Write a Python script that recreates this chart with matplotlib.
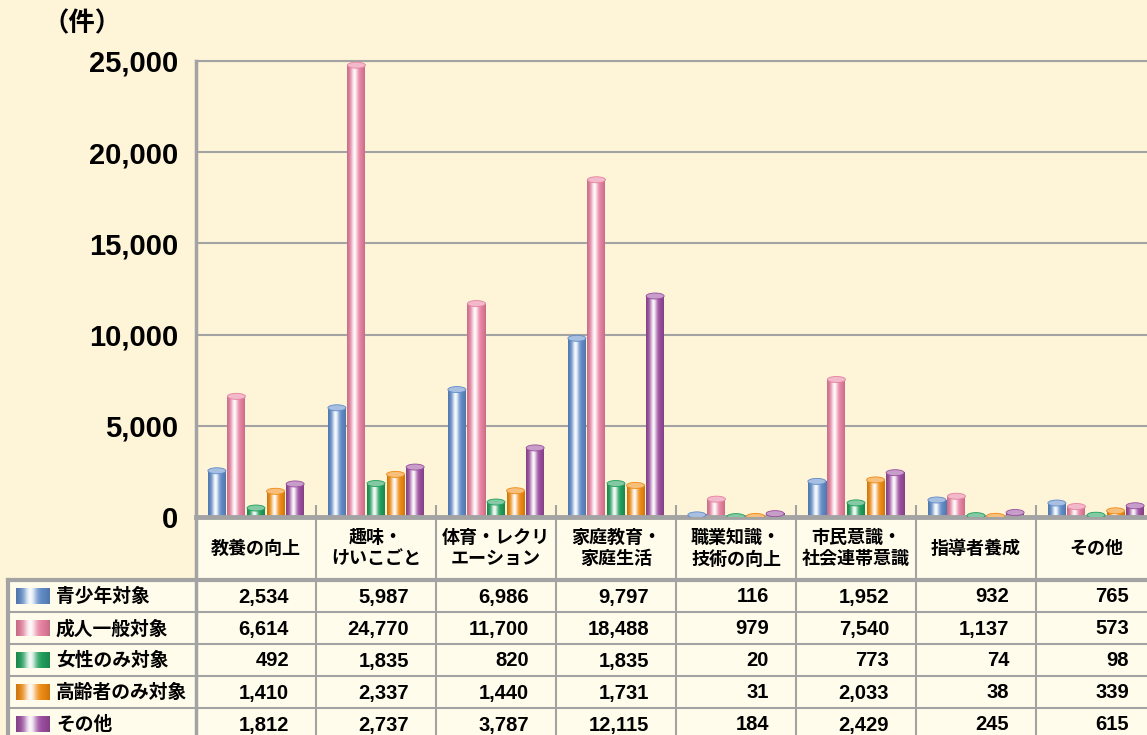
import numpy as np
import matplotlib.pyplot as plt
from matplotlib.patches import Ellipse, Rectangle
from matplotlib.colors import to_rgb

plt.rcParams['font.family'] = ['Liberation Sans', 'Noto Sans CJK JP']
plt.rcParams['font.weight'] = 'bold'

categories = ['教養の向上', '趣味・\nけいこごと', '体育・レクリ\nエーション', '家庭教育・\n家庭生活',
              '職業知識・\n技術の向上', '市民意識・\n社会連帯意識', '指導者養成', 'その他']
series = ['青少年対象', '成人一般対象', '女性のみ対象', '高齢者のみ対象', 'その他']
youth = [2534, 5987, 6986, 9797, 116, 1952, 932, 765]
adult = [6614, 24770, 11700, 18488, 979, 7540, 1137, 573]
women = [492, 1835, 820, 1835, 20, 773, 74, 98]
elderly = [1410, 2337, 1440, 1731, 31, 2033, 38, 339]
other = [1812, 2737, 3787, 12115, 184, 2429, 245, 615]
values = [youth, adult, women, elderly, other]
colors = ['#5F8BC8', '#E8809F', '#1E9E5A', '#F08A10', '#9A4C9E']
yticks = [0, 5000, 10000, 15000, 20000, 25000]

W, H = 1147, 735
bg = '#FEF4D8'
cell = '#FFFCEC'
line = '#A3A3A3'


def shade(c, n=48):
    # cylinder look: colour at the edges, white highlight a bit left of centre
    t = np.linspace(0, 1, n)
    w = np.exp(-((t - 0.42) / 0.19) ** 2) * 0.95
    c = np.array(to_rgb(c))
    col = c[None, :] * (1 - w[:, None]) + w[:, None]
    col *= (1 - 0.15 * np.abs(2 * t - 1) ** 3)[:, None]
    return col[None, :, :]


def lighten(c, f=0.5):
    c = np.array(to_rgb(c))
    return tuple(c + (1 - c) * f)


fig = plt.figure(figsize=(W / 100, H / 100), dpi=100, facecolor=bg)

# bar chart
ax = fig.add_axes([196 / W, 1 - 517 / H, 960 / W, 456 / H])
ax.set_facecolor(bg)
ax.set_zorder(2)
bw = 0.15
pitch = 0.163
cap = 330
for j, vals in enumerate(values):
    img = shade(colors[j])
    for i, v in enumerate(vals):
        cx = i + 0.5 + (j - 2) * pitch
        ax.imshow(img, extent=(cx - bw / 2, cx + bw / 2, 0, v), aspect='auto',
                  interpolation='bilinear', zorder=2)
        ax.add_patch(Ellipse((cx, v), bw, cap, facecolor=lighten(colors[j], 0.45),
                             edgecolor=colors[j], lw=0.6, zorder=3))

ax.vlines(range(1, 8), 0, 650, color=line, lw=1.5, zorder=1)
ax.set_xlim(0, 8)
ax.set_ylim(0, 25000)
ax.set_xticks([])
ax.set_yticks(yticks)
ax.set_yticklabels([f'{v:,}' for v in yticks], fontsize=21, fontweight='bold')
ax.tick_params(axis='y', length=0, pad=13)
ax.yaxis.grid(True, color=line, lw=1.5)
ax.set_axisbelow(True)
ax.spines['right'].set_visible(False)
ax.spines['top'].set_color(line)
ax.spines['top'].set_linewidth(1.5)
ax.spines['left'].set_color(line)
ax.spines['left'].set_linewidth(2.5)
ax.spines['bottom'].set_color(line)
ax.spines['bottom'].set_linewidth(3.5)

fig.text(82 / W, 1 - 24 / H, '（件）', fontsize=19, fontweight='bold', ha='center', va='center')

# data table
tax = fig.add_axes([0, 0, 1, 1])
tax.set_zorder(1)
tax.patch.set_alpha(0)
tax.axis('off')

col_w = 120
x0 = 196
row_top = 580
row_h = 32
tax.add_patch(Rectangle((x0, 517), col_w * 8, row_top - 517, facecolor=cell, edgecolor='none'))
tax.add_patch(Rectangle((8, row_top), W, row_h * 5 + 5, facecolor=cell, edgecolor='none'))

for k in range(1, 8):
    tax.plot([x0 + col_w * k] * 2, [517, H + 5], color=line, lw=1.5)
tax.plot([x0, x0], [517, H + 5], color=line, lw=2.5)
tax.plot([8, 8], [row_top, H + 5], color=line, lw=3)
tax.plot([8, W + 5], [row_top, row_top], color=line, lw=3)
for r in range(1, 5):
    y = row_top + row_h * r
    tax.plot([8, W + 5], [y, y], color=line, lw=1.5)

for i, cat in enumerate(categories):
    tax.text(x0 + col_w * (i + 0.5), 549, cat, ha='center', va='center',
             fontsize=13, fontweight='bold', linespacing=1.3)

for j, name in enumerate(series):
    yc = row_top + row_h * j + row_h / 2
    tax.imshow(shade(colors[j], 30), extent=(16, 50, yc + 8, yc - 8), aspect='auto',
               interpolation='bilinear', zorder=3)
    tax.text(56, yc + 1, name, ha='left', va='center', fontsize=13.5, fontweight='bold')
    for i, v in enumerate(values[j]):
        tax.text(x0 + col_w * (i + 1) - 27, yc + 1, f'{v:,}', ha='right', va='center',
                 fontsize=14.5, fontweight='bold')

tax.set_xlim(0, W)
tax.set_ylim(H, 0)

fig.savefig('out.png', dpi=100, facecolor=bg)
